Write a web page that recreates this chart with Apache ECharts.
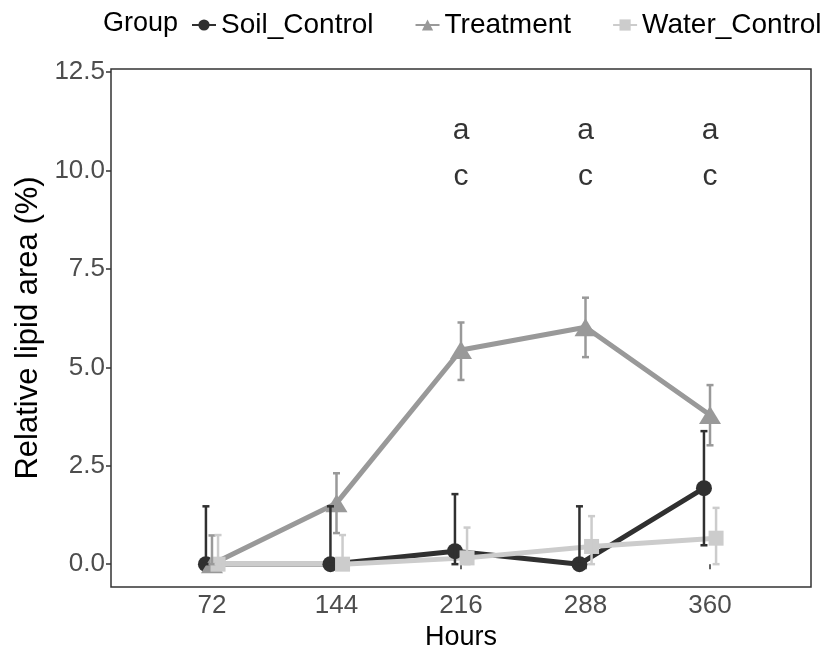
<!DOCTYPE html>
<html>
<head>
<meta charset="utf-8">
<script src="https://cdn.jsdelivr.net/npm/echarts@6/dist/echarts.min.js"></script>
<style>
  html, body { margin: 0; padding: 0; background: #fff; }
  #chart { width: 826px; height: 658px; }
</style>
</head>
<body>
<div id="chart"></div>
<script>
// data
const hours = [72, 144, 216, 288, 360]
const yTicks = [0, 2.5, 5, 7.5, 10, 12.5]

const soilMean = [0, 0, 0.33, 0, 1.93]
const soilLow = [0, 0, 0, 0, 0.48]
const soilHigh = [1.47, 1.47, 1.78, 1.47, 3.38]

const treatMean = [0, 1.55, 5.44, 6.02, 3.79]
const treatLow = [0, 0.79, 4.68, 5.26, 3.02]
const treatHigh = [0.73, 2.31, 6.14, 6.77, 4.55]

const waterMean = [0, 0, 0.16, 0.45, 0.66]
const waterLow = [0, 0, 0, 0, 0]
const waterHigh = [0.74, 0.74, 0.93, 1.22, 1.43]

// significance letters
const letterHours = [216, 288, 360]
const letterTop = ['a', 'a', 'a']
const letterBottom = ['c', 'c', 'c']
const letterTopY = 11
const letterBottomY = 9.85

const FONT = 'Liberation Sans, Arial, sans-serif'

const groups = [
    { name: 'Soil_Control', mean: soilMean, low: soilLow, high: soilHigh, color: '#303030', symbol: 'circle', size: 16, dodge: -3.5 },
    { name: 'Treatment', mean: treatMean, low: treatLow, high: treatHigh, color: '#999999', symbol: 'triangle', size: [22, 18], dodge: 0 },
    { name: 'Water_Control', mean: waterMean, low: waterLow, high: waterHigh, color: '#cccccc', symbol: 'rect', size: 15, dodge: 3.5 }
]

function errorBars(g) {
    return {
        type: 'custom',
        name: g.name + '_err',
        z: 4,
        silent: true,
        data: hours.map((h, i) => [h + g.dodge, g.low[i], g.high[i]]),
        renderItem: function (params, api) {
            const x = api.value(0)
            const lo = api.coord([x, api.value(1)])
            const hi = api.coord([x, api.value(2)])
            const w = 3.5
            const st = { stroke: g.color, lineWidth: 2.5 }
            return {
                type: 'group',
                children: [
                    { type: 'line', shape: { x1: lo[0], y1: lo[1], x2: hi[0], y2: hi[1] }, style: st },
                    { type: 'line', shape: { x1: hi[0] - w, y1: hi[1], x2: hi[0] + w, y2: hi[1] }, style: st },
                    { type: 'line', shape: { x1: lo[0] - w, y1: lo[1], x2: lo[0] + w, y2: lo[1] }, style: st }
                ]
            }
        }
    }
}

function lineSeries(g) {
    return {
        type: 'line',
        name: g.name,
        z: 3,
        data: hours.map((h, i) => [h + g.dodge, g.mean[i]]),
        symbol: g.symbol,
        symbolSize: g.size,
        showAllSymbol: true,
        itemStyle: { color: g.color },
        lineStyle: { color: g.color, width: 5 },
        emphasis: { disabled: true }
    }
}

function letters(arr, y) {
    return {
        type: 'scatter',
        symbolSize: 0,
        z: 5,
        silent: true,
        data: letterHours.map((h, i) => ({ value: [h, y], label: { formatter: arr[i] } })),
        label: {
            show: true,
            position: 'inside',
            color: '#000',
            fontFamily: FONT,
            fontSize: 30
        }
    }
}

const series = []
groups.forEach(g => series.push(lineSeries(g)))
groups.forEach(g => series.push(errorBars(g)))
series.push(letters(letterTop, letterTopY))
series.push(letters(letterBottom, letterBottomY))

const chart = echarts.init(document.getElementById('chart'))
chart.setOption({
    animation: false,
    backgroundColor: '#fff',
    textStyle: { fontFamily: FONT },
    grid: {
        left: 111, right: 15, top: 69, bottom: 71,
        show: true,
        borderColor: '#333333',
        borderWidth: 1.5,
        backgroundColor: '#fff'
    },
    graphic: [{
        type: 'text',
        left: 103,
        top: 10,
        style: { text: 'Group', fontFamily: FONT, fontSize: 27, fill: '#000' }
    }],
    legend: {
        data: groups.map(g => g.name),
        left: 191,
        top: 11,
        width: 660,
        padding: 0,
        itemWidth: 24,
        itemHeight: 14,
        itemGap: 41,
        textStyle: { fontFamily: FONT, fontSize: 28, color: '#000' }
    },
    xAxis: {
        type: 'value',
        min: 13.6,
        max: 418.4,
        name: 'Hours',
        nameLocation: 'middle',
        nameGap: 34,
        nameTextStyle: { fontFamily: FONT, fontSize: 27, color: '#000' },
        axisLine: { show: false },
        axisTick: { show: true, length: 5, customValues: hours, lineStyle: { color: '#333333', width: 1.5 } },
        axisLabel: { customValues: hours, fontSize: 26, color: '#4d4d4d', margin: 6 },
        splitLine: { show: false }
    },
    yAxis: {
        type: 'value',
        min: -0.58,
        max: 12.58,
        name: 'Relative lipid area (%)',
        nameLocation: 'middle',
        nameRotate: 90,
        nameGap: 66,
        nameTextStyle: { fontFamily: FONT, fontSize: 31, color: '#000' },
        axisLine: { show: false },
        axisTick: { show: true, length: 5, customValues: yTicks, lineStyle: { color: '#333333', width: 1.5 } },
        axisLabel: { customValues: yTicks, fontSize: 26, color: '#4d4d4d', margin: 6, formatter: v => v.toFixed(1) },
        splitLine: { show: false }
    },
    series: series
})
</script>
</body>
</html>
